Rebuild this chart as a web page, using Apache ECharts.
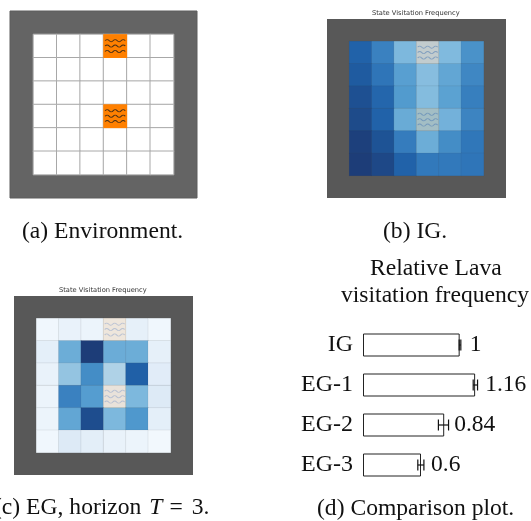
<!DOCTYPE html>
<html><head><meta charset="utf-8">
<style>html,body{margin:0;padding:0;background:#fff}#c{width:531px;height:521px}</style>
<script src="https://cdn.jsdelivr.net/npm/echarts@6/dist/echarts.min.js"></script>
</head><body><div id="c"></div>
<script>
// 6x6 floor, row by row from the top
const igFrequency = [
  [0.86,0.72,0.50,0.30,0.49,0.66],
  [0.89,0.77,0.61,0.47,0.58,0.70],
  [0.93,0.84,0.63,0.48,0.60,0.73],
  [0.95,0.86,0.56,0.42,0.53,0.71],
  [0.99,0.92,0.74,0.55,0.68,0.76],
  [1.00,0.96,0.86,0.75,0.75,0.77]
];
const egFrequency = [
  [0.03,0.08,0.06,0.06,0.10,0.03],
  [0.11,0.55,1.00,0.555,0.55,0.10],
  [0.08,0.43,0.68,0.34,0.87,0.13],
  [0.06,0.72,0.62,0.10,0.50,0.15],
  [0.06,0.58,0.94,0.50,0.64,0.11],
  [0.03,0.15,0.12,0.08,0.06,0.02]
];
const lavaCells = [[3,0],[3,3]]; // column, row within the floor
const methods = ['IG','EG-1','EG-2','EG-3'];
const lavaFrequency = [1,1.16,0.84,0.6];
const errLow = [0.995,1.14,0.78,0.567];
const errHigh = [1.012,1.185,0.885,0.63];
const blues = ['#F5FAFE','#E2EDF8','#C7DCEF','#A6CEE4','#7DB8DD','#539CCF','#3279BB','#1F5FA6','#1D3D78'];
const gridIdx = ['0','1','2','3','4','5','6','7'];
const wavePath = 'path://M0 2Q2 0 4 2T8 2T12 2T16 2T20 2M0 7Q2 5 4 7T8 7T12 7T16 7T20 7M0 12Q2 10 4 12T8 12T12 12T16 12T20 12';

const SERIF = '"Liberation Serif","Times New Roman",serif';
const chart = echarts.init(document.getElementById('c'), null, {renderer:'canvas'});

const shift = ([c,r]) => [c+1, r+1, 1];
const toCells = m => m.flatMap((row,r) => row.map((v,c) => [c+1,r+1,v]));
const floorCells = igFrequency.flatMap((row,r) => row.map((_,c) => [c+1,r+1,1]));

const grids = [
  {left:10,top:11,width:187,height:187,show:true,backgroundColor:'#646464',borderColor:'#5c5c5c',borderWidth:1},
  {left:327,top:19,width:179,height:179,show:true,backgroundColor:'#585858',borderWidth:0},
  {left:14,top:296,width:179,height:179,show:true,backgroundColor:'#585858',borderWidth:0},
  {left:363,top:325,width:145,height:160,show:false}
];
const cellAxis = (i,inv) => ({type:'category',gridIndex:i,data:gridIdx,show:false,inverse:inv});
const xAxes = [cellAxis(0,false),cellAxis(1,false),cellAxis(2,false),
  {type:'value',gridIndex:3,min:0,max:1.5,show:false}];
const yAxes = [cellAxis(0,true),cellAxis(1,true),cellAxis(2,true),
  {type:'category',gridIndex:3,data:methods,inverse:true,
   axisLine:{show:false},axisTick:{show:false},splitLine:{show:false},
   axisLabel:{fontFamily:SERIF,fontSize:24,color:'#111',margin:10}}];

const heat = (i,data,z) => ({type:'heatmap',xAxisIndex:i,yAxisIndex:i,data,z,
  itemStyle:{borderColor:'rgba(70,70,70,0.09)',borderWidth:1},emphasis:{disabled:true}});
const waves = (i,color,width) => ({type:'scatter',xAxisIndex:i,yAxisIndex:i,data:lavaCells.map(shift),z:6,
  symbol:wavePath,symbolSize:[width,13],silent:true,
  itemStyle:{color:'rgba(0,0,0,0)',borderColor:color,borderWidth:1}});
const overlay = (i) => ({type:'heatmap',xAxisIndex:i,yAxisIndex:i,data:lavaCells.map(shift),z:5,silent:true,
  itemStyle:{color:'rgba(255,128,0,0.12)'},emphasis:{disabled:true}});

const series = [
  // panel (a)
  {type:'heatmap',xAxisIndex:0,yAxisIndex:0,data:floorCells,z:2,
   itemStyle:{color:'#fff',borderColor:'#a8a8a8',borderWidth:1},emphasis:{disabled:true}},
  {type:'heatmap',xAxisIndex:0,yAxisIndex:0,data:lavaCells.map(shift),z:3,
   itemStyle:{color:'#FF8000'},emphasis:{disabled:true}},
  waves(0,'#1a1a1a',20),
  // panel (b)
  heat(1,toCells(igFrequency),2), overlay(1), waves(1,'rgba(80,125,180,0.7)',20),
  // panel (c)
  heat(2,toCells(egFrequency),2), overlay(2), waves(2,'rgba(150,170,205,0.75)',20),
  // panel (d)
  {type:'bar',xAxisIndex:3,yAxisIndex:3,data:lavaFrequency,barWidth:23,silent:true,
   itemStyle:{color:'#fff',borderColor:'#222',borderWidth:1,borderJoin:'miter',borderRadius:0},
   label:{show:true,position:'right',distance:10,fontFamily:SERIF,fontSize:23.5,color:'#111'}},
  {type:'custom',xAxisIndex:3,yAxisIndex:3,z:5,silent:true,
   data:methods.map((_,i)=>[errLow[i],errHigh[i],i]),
   encode:{x:[0,1],y:2},
   renderItem:(p,api)=>{
     const a=api.coord([api.value(0),api.value(2)]), b=api.coord([api.value(1),api.value(2)]);
     const h=5.5, st={stroke:'#111',lineWidth:1.2,fill:null};
     const ln=(x1,y1,x2,y2)=>({type:'line',shape:{x1,y1,x2,y2},style:st});
     return {type:'group',children:[ln(a[0],a[1],b[0],b[1]),ln(a[0],a[1]-h,a[0],a[1]+h),ln(b[0],b[1]-h,b[0],b[1]+h)]};
   }}
];

const cap = (text,left,top,extra) => ({text,left,top,padding:0,
  textStyle:Object.assign({fontFamily:SERIF,fontSize:23.6,fontWeight:'normal',color:'#111'},extra||{})});
const small = (left,top) => ({text:'State Visitation Frequency',left,top,padding:0,
  textStyle:{fontFamily:'"DejaVu Sans"',fontSize:6.7,fontWeight:'normal',color:'#333'}});

chart.setOption({
  animation:false,
  grid:grids,xAxis:xAxes,yAxis:yAxes,
  visualMap:{show:false,type:'continuous',seriesIndex:[3,6],min:0,max:1,dimension:2,inRange:{color:blues}},
  title:[
    cap('(a) Environment.',22,220),
    cap('(b) IG.',383,220),
    {text:'(c) EG, horizon {i|T}{e|=}3.',left:-6,top:496,padding:0,
     textStyle:{fontFamily:SERIF,fontSize:23.6,fontWeight:'normal',color:'#111',
       rich:{i:{fontFamily:SERIF,fontSize:23.6,fontStyle:'italic',color:'#111',padding:[0,4,0,2]},
             e:{fontFamily:SERIF,fontSize:23.6,color:'#111',padding:[0,9,0,3]}}}},
    cap('(d) Comparison plot.',317,497),
    cap('Relative Lava',370,257),
    cap('visitation frequency',341,284),
    small(372,10),
    small(59,287)
  ],
  series
});
</script></body></html>
